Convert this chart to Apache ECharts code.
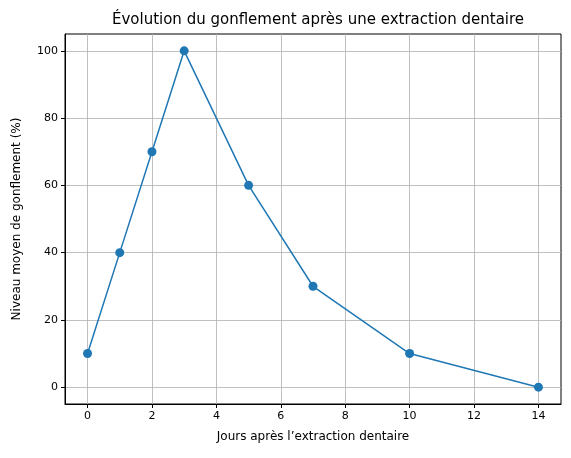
<!DOCTYPE html>
<html style="height: 100%">
<head>
<meta charset="utf-8">
<script src="https://cdn.jsdelivr.net/npm/echarts@6/dist/echarts.min.js"></script>
</head>
<body style="height: 100%; margin: 0">
<div id="container" style="width: 571px; height: 458px"></div>
<script type="text/javascript">
    // data
    let days = [0, 1, 2, 3, 5, 7, 10, 14];
    let swelling = [10, 40, 70, 100, 60, 30, 10, 0];
    let xTicks = [0, 2, 4, 6, 8, 10, 12, 14];
    let yTicks = [0, 20, 40, 60, 80, 100];

    let chart = echarts.init(document.getElementById("container"));
    let font = "DejaVu Sans";
    let gridLine = {show: true, lineStyle: {color: '#b0b0b0', width: 0.8}};

    chart.setOption({
        animation: false,
        title: {
            text: 'Évolution du gonflement après une extraction dentaire',
            left: 313, top: 8, textAlign: 'center',
            textStyle: {fontFamily: font, fontSize: 15, fontWeight: 'normal', color: '#000'}
        },
        grid: {left: 65, right: 10, top: 34, bottom: 54, show: true, borderColor: '#000', borderWidth: 1},
        xAxis: {
            type: 'value', min: -0.7, max: 14.7,
            name: 'Jours après l’extraction dentaire', nameLocation: 'middle', nameGap: 27,
            nameTextStyle: {fontFamily: font, fontSize: 12, color: '#000'},
            axisLine: {show: true, onZero: false, lineStyle: {color: '#000'}},
            axisTick: {show: true, inside: false, customValues: xTicks, length: 4, lineStyle: {color: '#000'}},
            axisLabel: {customValues: xTicks, fontFamily: font, fontSize: 11, color: '#000', margin: 7},
            splitLine: gridLine
        },
        yAxis: {
            type: 'value', min: -5, max: 105,
            name: 'Niveau moyen de gonflement (%)', nameLocation: 'middle', nameGap: 42,
            nameTextStyle: {fontFamily: font, fontSize: 12, color: '#000'},
            axisLine: {show: true, onZero: false, lineStyle: {color: '#000'}},
            axisTick: {show: true, inside: false, customValues: yTicks, length: 4, lineStyle: {color: '#000'}},
            axisLabel: {customValues: yTicks, fontFamily: font, fontSize: 11, color: '#000', margin: 7},
            splitLine: gridLine
        },
        series: [{
            type: 'line',
            data: days.map((d, i) => [d, swelling[i]]),
            symbol: 'circle', symbolSize: 9,
            itemStyle: {color: '#1f77b4'},
            lineStyle: {color: '#1f77b4', width: 1.5}
        }]
    });
</script>
</body>
</html>
